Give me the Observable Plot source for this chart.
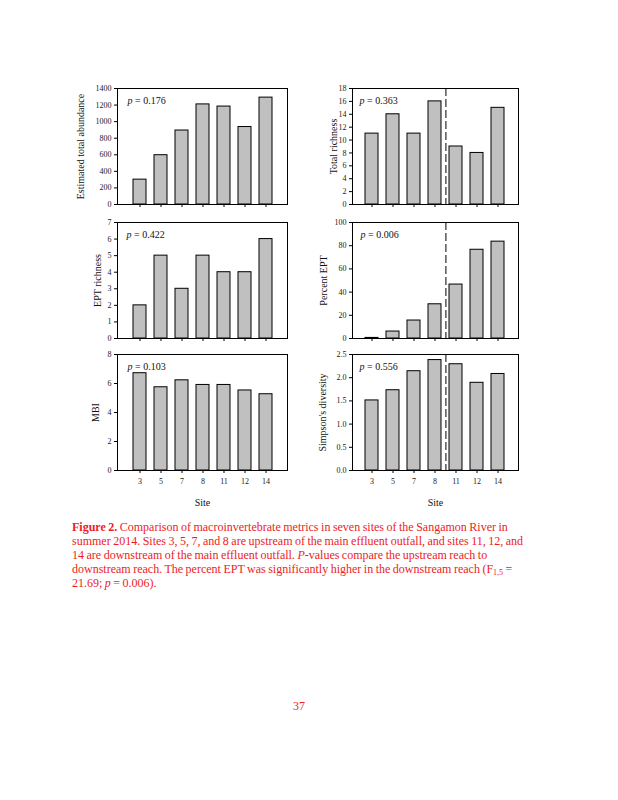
<!DOCTYPE html>
<html>
<head>
<meta charset="utf-8">
<script src="https://cdn.jsdelivr.net/npm/d3@7"></script>
<script src="https://cdn.jsdelivr.net/npm/@observablehq/plot@0.6"></script>
<style>
  html, body { margin: 0; padding: 0; background: #fff; }
  #page { position: relative; width: 618px; height: 800px; background: #fff; overflow: hidden; font-family: "Liberation Serif", "DejaVu Serif", serif; }
  .panel { position: absolute; }
  #caption { position: absolute; left: 72px; top: 521.4px; font-size: 12px; line-height: 13.8px; color: #ed1c24; white-space: nowrap; word-spacing: -0.5px; }
  #caption sub { font-size: 8px; vertical-align: -2px; line-height: 0; }
  #pagenum { position: absolute; left: 0; width: 598px; text-align: center; top: 699px; font-size: 12px; color: #ed1c24; }
</style>
</head>
<body>
<div id="page">
  <div id="caption">
    <b>Figure 2.</b> Comparison of macroinvertebrate metrics in seven sites of the Sangamon River in<br>
    summer 2014. Sites 3, 5, 7, and 8 are upstream of the main effluent outfall, and sites 11, 12, and<br>
    14 are downstream of the main effluent outfall. <i>P</i>-values compare the upstream reach to<br>
    downstream reach. The percent EPT was significantly higher in the downstream reach (F<sub>1,5</sub> =<br>
    21.69; <i>p</i> = 0.006).
  </div>
  <div id="pagenum">37</div>
</div>
<script>
const sites = ["3", "5", "7", "8", "11", "12", "14"];
const abundance = [300, 595, 893, 1208, 1182, 935, 1290];
const totalRichness = [11, 14, 11, 16, 9, 8, 15];
const eptRichness = [2, 5, 3, 5, 4, 4, 6];
const percentEPT = [0.5, 6, 15.5, 29.5, 46.5, 76.5, 83.5];
const mbi = [6.71, 5.74, 6.22, 5.9, 5.9, 5.52, 5.26];
const simpson = [1.51, 1.73, 2.14, 2.38, 2.29, 1.89, 2.08];
const pValues = ["0.176", "0.363", "0.422", "0.006", "0.103", "0.556"];
const yLabels = ["Estimated total abundance", "Total richness", "EPT richness", "Percent EPT", "MBI", "Simpson's diversity"];
const yTicks1 = [0, 200, 400, 600, 800, 1000, 1200, 1400];
const yTicks2 = [0, 2, 4, 6, 8, 10, 12, 14, 16, 18];
const yTicks3 = [0, 1, 2, 3, 4, 5, 6, 7];
const yTicks4 = [0, 20, 40, 60, 80, 100];
const yTicks5 = [0, 2, 4, 6, 8];
const yTicks6 = [0, 0.5, 1.0, 1.5, 2.0, 2.5];
const xLabel = "Site";
const upstreamLast = "8";

const FONT = "Liberation Serif, DejaVu Serif, serif";
const cols = [
  {svgLeft: 60, marginLeft: 57, plotW: 170, pI: 0.39, pO: 0.65},
  {svgLeft: 300, marginLeft: 52, plotW: 166, pI: 0.37, pO: 0.49}
];
const rowTops = [88, 221.7, 354.3];
const plotH = 116;

const panels = [
  {values: abundance, domain: [0, 1400], ticks: yTicks1, fmt: d => String(d), labelX: 80, pX: 10, dashed: false},
  {values: totalRichness, domain: [0, 18], ticks: yTicks2, fmt: d => String(d), labelX: 333, pX: 7, dashed: true},
  {values: eptRichness, domain: [0, 7], ticks: yTicks3, fmt: d => String(d), labelX: 97, pX: 9, dashed: false},
  {values: percentEPT, domain: [0, 100], ticks: yTicks4, fmt: d => String(d), labelX: 323, pX: 8, dashed: true},
  {values: mbi, domain: [0, 8], ticks: yTicks5, fmt: d => String(d), labelX: 95, pX: 10, dashed: false},
  {values: simpson, domain: [0, 2.5], ticks: yTicks6, fmt: d3.format(".1f"), labelX: 322, pX: 7, dashed: true}
];

const page = document.getElementById("page");

panels.forEach((p, k) => {
  const col = cols[k % 2];
  const row = Math.floor(k / 2);
  const bottom = row === 2;
  const marginTop = 8;
  const marginBottom = bottom ? 42 : 8;
  const marginRight = 6;
  const width = col.marginLeft + col.plotW + marginRight;
  const height = marginTop + plotH + marginBottom;
  const data = sites.map((s, i) => ({site: s, value: p.values[i]}));
  const step = col.plotW / (sites.length - col.pI + 2 * col.pO);

  const marks = [
    Plot.barY(data, {x: "site", y: "value", fill: "#c0c0c0", stroke: "#000", strokeWidth: 1}),
    Plot.frame({stroke: "#000", strokeWidth: 1}),
    Plot.axisY({ticks: p.ticks, tickFormat: p.fmt, tickSize: 3, tickPadding: 3, fontSize: 8, fill: "#222", label: null, fontFamily: FONT}),
    Plot.axisX({tickSize: 3, tickPadding: 5, fontSize: 8, fill: "#222", label: null, tickFormat: bottom ? (d => d) : (() => ""), fontFamily: FONT}),
    Plot.text([yLabels[k]], {frameAnchor: "left", dx: p.labelX - (col.svgLeft + col.marginLeft), rotate: -90, fontSize: 10, fill: "#111", fontFamily: FONT, textAnchor: "middle", lineAnchor: "middle"}),
    Plot.text(["p"], {frameAnchor: "top-left", dx: p.pX, dy: 12, fontSize: 10, fontStyle: "italic", fill: "#111", fontFamily: FONT, textAnchor: "start", lineAnchor: "middle"}),
    Plot.text(["= " + pValues[k]], {frameAnchor: "top-left", dx: p.pX + 7.5, dy: 12, fontSize: 10, fill: "#111", fontFamily: FONT, textAnchor: "start", lineAnchor: "middle"})
  ];
  if (p.dashed) {
    marks.push(Plot.ruleX([upstreamLast], {dx: step / 2, stroke: "#000", strokeWidth: 1, strokeDasharray: "8,3"}));
  }
  if (bottom) {
    marks.push(Plot.text([xLabel], {frameAnchor: "bottom", dy: 32, fontSize: 10, fill: "#111", fontFamily: FONT, lineAnchor: "middle"}));
  }

  const chart = Plot.plot({
    width, height, marginTop, marginBottom, marginLeft: col.marginLeft, marginRight,
    style: {fontFamily: FONT, background: "transparent", overflow: "visible"},
    x: {domain: sites, paddingInner: col.pI, paddingOuter: col.pO, axis: null},
    y: {domain: p.domain, axis: null},
    marks
  });
  const div = document.createElement("div");
  div.className = "panel";
  div.style.left = col.svgLeft + "px";
  div.style.top = (rowTops[row] - marginTop) + "px";
  div.appendChild(chart);
  page.appendChild(div);
});
</script>
</body>
</html>
